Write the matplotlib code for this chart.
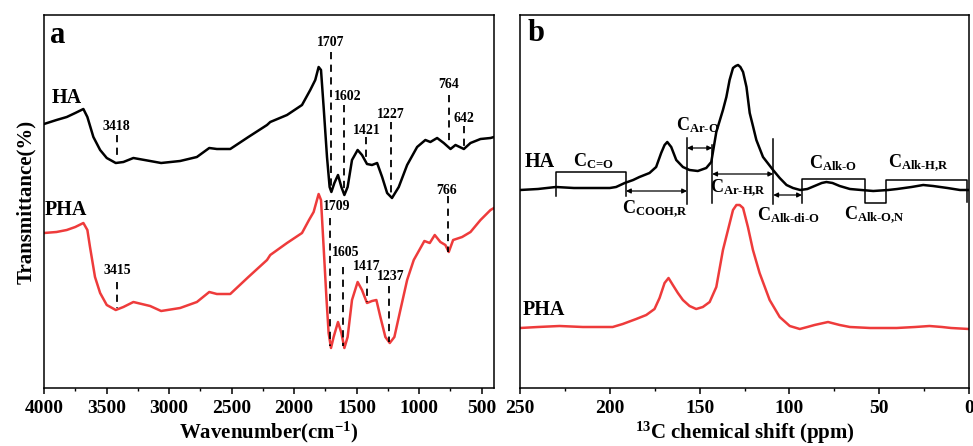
import matplotlib
matplotlib.use("Agg")
import matplotlib.pyplot as plt
from matplotlib.ticker import MultipleLocator

plt.rcParams['font.family'] = ['Liberation Serif', 'DejaVu Serif']
plt.rcParams['font.weight'] = 'bold'
plt.rcParams['mathtext.fontset'] = 'custom'
plt.rcParams['mathtext.rm'] = 'Liberation Serif:bold'
plt.rcParams['mathtext.bf'] = 'Liberation Serif:bold'
plt.rcParams['mathtext.it'] = 'Liberation Serif:italic:bold'

RED = '#ee3b3b'

# ---------------- FTIR data (panel a), arbitrary transmittance units ----------------
ha_wn = [4000, 3900, 3818, 3750, 3685, 3653, 3605, 3551, 3498, 3426, 3365, 3285,
         3151, 3063, 2911, 2777, 2678, 2617, 2510, 2365, 2216, 2190, 2056, 1936,
         1870, 1830, 1803, 1784, 1763, 1736, 1715, 1701, 1677, 1648, 1621, 1597,
         1571, 1536, 1491, 1456, 1416, 1376, 1335, 1295, 1255, 1216, 1162, 1095,
         1015, 949, 909, 855, 802, 748, 708, 641, 588, 508, 428, 400]
ha_t = [264, 268, 271, 275, 279, 271, 251, 238, 230, 225, 226, 230,
        227, 225, 227, 231, 240, 239, 239, 251, 263, 266, 273, 283,
        298, 308, 321, 318, 281, 231, 201, 196, 205, 213, 201, 193,
        201, 228, 238, 233, 224, 223, 225, 211, 195, 190, 201, 223,
        241, 248, 246, 250, 245, 239, 243, 239, 245, 249, 250, 251]

pha_wn = [4000, 3900, 3818, 3750, 3685, 3653, 3632, 3592, 3551, 3498, 3426, 3365,
          3285, 3151, 3063, 2911, 2777, 2678, 2617, 2510, 2365, 2216, 2190, 2056,
          1936, 1880, 1843, 1803, 1784, 1763, 1741, 1723, 1704, 1683, 1648, 1621,
          1597, 1571, 1536, 1491, 1456, 1416, 1376, 1341, 1309, 1269, 1234, 1197,
          1149, 1095, 1042, 957, 914, 874, 829, 789, 762, 727, 655, 588, 508, 428, 400]
pha_t = [155, 156, 158, 161, 165, 158, 141, 111, 95, 83, 78, 81,
         86, 82, 77, 80, 86, 96, 94, 94, 111, 128, 133, 145,
         155, 168, 176, 194, 188, 141, 91, 55, 40, 51, 66, 55,
         40, 51, 88, 106, 98, 85, 87, 88, 71, 51, 45, 51,
         78, 108, 128, 147, 145, 153, 146, 143, 136, 148, 151, 156, 168, 178, 180]

ha_peaks = ['3418', '1707', '1602', '1421', '1227', '764', '642']
pha_peaks = ['3415', '1709', '1605', '1417', '1237', '766']

# ---------------- 13C NMR data (panel b), arbitrary intensity ----------------
ha_ppm = [250, 240, 230, 220, 210, 200, 196.5, 191.7, 187, 183.5, 177.9, 174.2,
          171.4, 169.5, 168, 165.8, 163, 159.3, 155.6, 151, 146.3, 143.5, 140.7,
          137, 135.1, 133.3, 131.4, 129.9, 128.6, 127.3, 125.8, 123.9, 122.1, 120.3,
          118.4, 114.7, 109.1, 105.4, 101.6, 98, 94, 90, 86, 82, 79.4, 76, 72, 66.3,
          60, 53.3, 45, 40, 32, 25.5, 20, 12, 5, 0]
ha_int = [198, 199, 201, 200, 200, 200, 201, 205, 208, 211, 215, 221,
          235, 243, 246, 241, 228, 221, 218, 217, 220, 226, 256,
          278, 291, 308, 320, 322, 323, 321, 316, 301, 275, 262,
          248, 231, 218, 210, 203, 200, 198, 199, 202, 205, 206, 205, 202, 199,
          198, 197, 198, 199, 201, 203, 202, 200, 198, 198]

pha_ppm = [250, 240, 228, 215, 205, 198.4, 192.8, 185.3, 179.7, 175.1, 172.3,
           169.5, 167.3, 164.9, 162.1, 159.3, 155.6, 151.9, 148.2, 144.4, 140.7,
           137, 134.2, 131.4, 129.5, 127.7, 125.8, 123.1, 120.3, 116.6, 111, 105.4,
           99.8, 94.2, 90, 86, 78.5, 72, 66.3, 55, 40.3, 30, 22, 15, 10, 0]
pha_int = [60, 61, 62, 61, 61, 61, 64, 69, 73, 79, 90,
           105, 110, 103, 95, 88, 82, 79, 81, 86, 101,
           138, 158, 178, 183, 183, 180, 161, 138, 115, 88, 71,
           62, 59, 61, 63, 66, 63, 61, 60, 60, 61, 62, 61, 60, 59]

regions = ['C=O', 'COOH,R', 'Ar-O', 'Ar-H,R', 'Alk-di-O', 'Alk-O', 'Alk-O,N', 'Alk-H,R']
bounds = [230, 191, 157, 143, 109, 93, 58, 46.4, 1]

fig = plt.figure(figsize=(9.73, 4.46), dpi=100)
ax1 = fig.add_axes([44 / 973, 58 / 446, 450 / 973, 373 / 446])
ax2 = fig.add_axes([520 / 973, 58 / 446, 449 / 973, 373 / 446])


def style_axes(ax):
    for s in ax.spines.values():
        s.set_linewidth(1.1)
    ax.tick_params(axis='x', which='major', direction='out', length=4.5, width=1.1,
                   labelsize=14, pad=4, top=False)
    ax.tick_params(axis='x', which='minor', direction='out', length=2.5, width=1.0, top=False)
    ax.set_yticks([])
    ax.set_ylim(0, 373)


# ---- panel a ----
ax1.plot(ha_wn, ha_t, color='black', lw=1.8)
ax1.plot(pha_wn, pha_t, color=RED, lw=1.8)
ax1.set_xlim(4000, 400)
ax1.xaxis.set_major_locator(MultipleLocator(500))
ax1.xaxis.set_minor_locator(MultipleLocator(250))
style_axes(ax1)
ax1.set_xlabel(r'Wavenumber(cm$\mathregular{^{-1}}$)', fontsize=15, fontweight='bold', labelpad=2)
ax1.set_ylabel('Transmittance(%)', fontsize=15, fontweight='bold', labelpad=6)

# (line x, text y, line y0, line y1)
ha_lay = [(3418, 262, 253, 228), (1707, 346, 336, 198), (1602, 291, 283, 195),
          (1421, 257, 251, 225), (1227, 274, 266, 193), (764, 304, 293, 243),
          (642, 270, 262, 242)]
ha_tx = [3418, 1707, 1568, 1421, 1227, 764, 642]
for lab, (wn, ty, y0, y1), tx in zip(ha_peaks, ha_lay, ha_tx):
    ax1.plot([wn, wn], [y0, y1], color='black', lw=1.3, ls=(0, (4, 3)))
    ax1.text(tx, ty, lab, ha='center', va='center', fontsize=10, fontweight='bold')

pha_lay = [(3415, 117, 106, 80), (1709, 181, 170, 42), (1605, 136, 121, 42),
           (1417, 121, 112, 86), (1237, 111, 102, 46), (766, 197, 192, 136)]
pha_tx = [3415, 1661, 1589, 1416, 1223, 780]
for lab, (wn, ty, y0, y1), tx in zip(pha_peaks, pha_lay, pha_tx):
    ax1.plot([wn, wn], [y0, y1], color='black', lw=1.3, ls=(0, (4, 3)))
    ax1.text(tx, ty, lab, ha='center', va='center', fontsize=10, fontweight='bold')

ax1.text(3936, 290, 'HA', ha='left', va='center', fontsize=14.5, fontweight='bold')
ax1.text(3992, 178, 'PHA', ha='left', va='center', fontsize=14.5, fontweight='bold')
ax1.text(0.013, 0.946, 'a', transform=ax1.transAxes, ha='left', va='center',
         fontsize=22, fontweight='bold')

# ---- panel b ----
ax2.plot(ha_ppm, ha_int, color='black', lw=1.8)
ax2.plot(pha_ppm, pha_int, color=RED, lw=1.8)
ax2.set_xlim(250, 0)
ax2.xaxis.set_major_locator(MultipleLocator(50))
ax2.xaxis.set_minor_locator(MultipleLocator(25))
style_axes(ax2)
ax2.set_xlabel(r'$\mathregular{^{13}}$C chemical shift (ppm)', fontsize=15,
               fontweight='bold', labelpad=2)

lk = dict(color='black', lw=1.1)
# C=O open box
ax2.plot([bounds[0], bounds[0], bounds[1], bounds[1]], [192, 216, 216, 192], **lk)
# separators
ax2.plot([bounds[2], bounds[2]], [184, 250], **lk)
ax2.plot([bounds[3], bounds[3]], [185, 243], **lk)
ax2.plot([bounds[4], bounds[4]], [184, 249], **lk)
# aliphatic step outline
ax2.plot([bounds[5], bounds[5], bounds[6], bounds[6], bounds[7], bounds[7], bounds[8], bounds[8]],
         [185, 209, 209, 185, 185, 208, 208, 186], **lk)

arrows = [(bounds[1], bounds[2], 197), (bounds[2], bounds[3], 240),
          (bounds[3], bounds[4], 214), (bounds[4], bounds[5], 193)]
for xa, xb, y in arrows:
    ax2.annotate('', xy=(xb, y), xytext=(xa, y),
                 arrowprops=dict(arrowstyle='<|-|>', color='black', lw=0.9,
                                 mutation_scale=7, shrinkA=0, shrinkB=0))

lab_pos = [(209.4, 227), (174.7, 179), (151, 263), (128.6, 200),
           (100.8, 173), (75.7, 225), (52.4, 173), (28.2, 225)]
for name, (x, y) in zip(regions, lab_pos):
    ax2.text(x, y, r'$\mathregular{C_{\text{%s}}}$' % name, ha='center', va='center',
             fontsize=13)

ax2.text(247.6, 226, 'HA', ha='left', va='center', fontsize=14.5, fontweight='bold')
ax2.text(248.7, 78, 'PHA', ha='left', va='center', fontsize=14.5, fontweight='bold')
ax2.text(0.017, 0.95, 'b', transform=ax2.transAxes, ha='left', va='center',
         fontsize=22, fontweight='bold')

fig.savefig('out.png', dpi=100)
